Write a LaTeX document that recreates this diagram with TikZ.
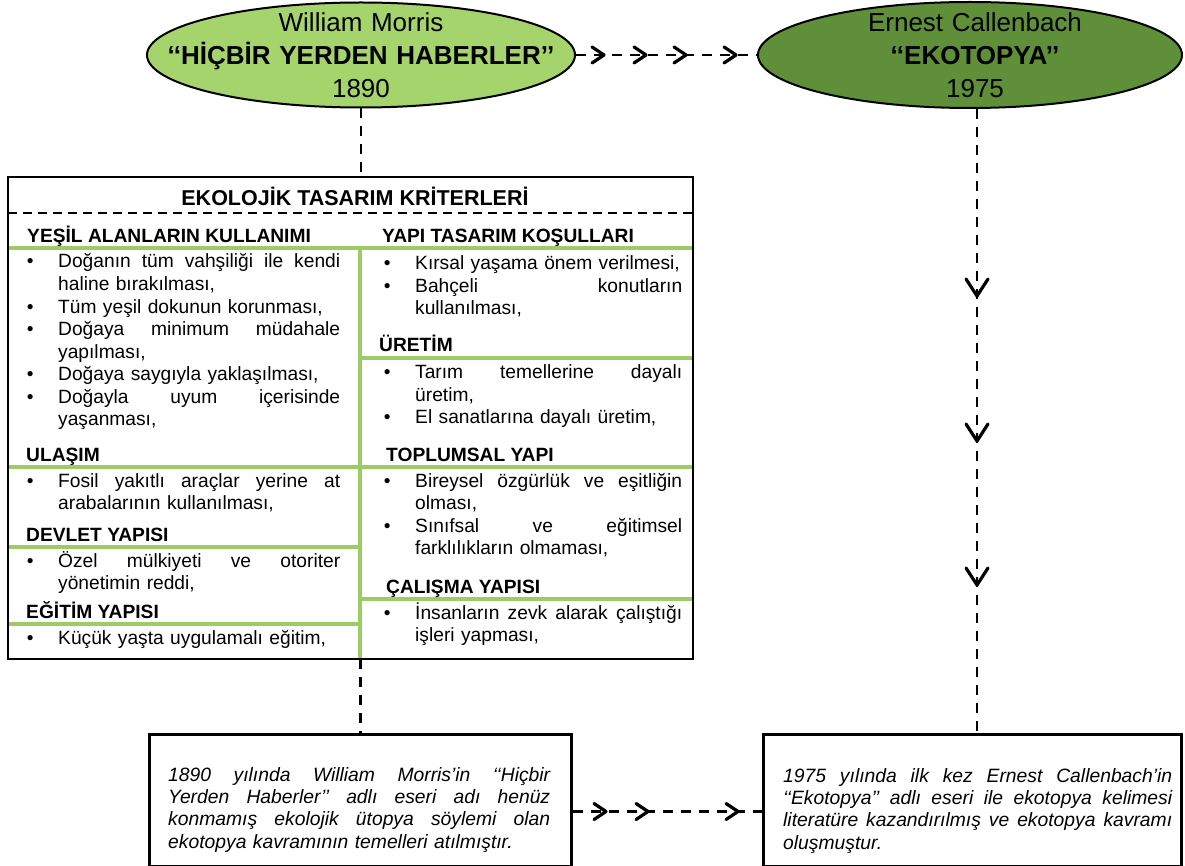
\documentclass[tikz,border=0pt]{standalone}
\usepackage{fontspec}
\setmainfont{Liberation Sans}
\usetikzlibrary{shapes.geometric,decorations.markings,calc}
\definecolor{lellfill}{HTML}{A6D46C}
\definecolor{rellfill}{HTML}{5F8F38}
\definecolor{gline}{HTML}{9DCC66}
\newcommand\jline[1]{\makebox[\hsize][s]{\spaceskip=0pt\xspaceskip=0pt #1}}
\newcommand\bul{\llap{•\hspace{24.5pt}}}
\newcommand\mybody{\fontsize{19.2}{22.5}\selectfont}
\newcommand\myell{\fontsize{26}{33}\selectfont}
\newcommand\mybot{\fontsize{19.3}{22.4}\selectfont}
\newcommand\chevh{\draw[solid,line width=3.2pt,line join=round,line cap=round] (-12pt,8pt) -- (0pt,0pt) -- (-12pt,-8pt);}
\newcommand\chevv{\draw[solid,line width=3.2pt,line join=round,line cap=round] (-17pt,11pt) -- (0pt,0pt) -- (-17pt,-11pt);}
\tikzset{
  conn/.style={line width=2.6pt, dash pattern=on 10pt off 8pt},
  gl/.style={line width=4pt, draw=gline},
  hdr/.style={anchor=base west, inner sep=0pt, font=\bfseries\mybody},
  lst/.style={anchor=base west, inner sep=0pt, text width=#1, align=left, font=\mybody},
  btext/.style={anchor=base west, inner sep=0pt, text width=#1, align=left, font=\itshape\mybot},
  elltxt/.style={anchor=base, inner sep=0pt, text width=420pt, align=center, font=\myell},
  ellshape/.style={ellipse, draw, line width=2pt, inner sep=0pt, minimum width=#1},
}
\begin{document}
\begin{tikzpicture}[x=1pt,y=-1pt]
\useasboundingbox (0,0) rectangle (1185,866);

% ellipses
\node[ellshape=428pt, fill=lellfill, minimum height=105pt] (lell) at (361,55) {};
\node[elltxt] (lelltxt) at (361,32) {William Morris\\{\bfseries ‘‘HİÇBİR YERDEN HABERLER’’}\\1890};
\node[ellshape=424pt, fill=rellfill, minimum height=106pt] (rell) at (970,55) {};
\node[elltxt] (relltxt) at (975,32) {Ernest Callenbach\\{\bfseries ‘‘EKOTOPYA’’}\\1975};

% main box
\node[minimum width=685pt, minimum height=482pt, inner sep=0pt] (mainbox) at (350.5,418) {};
\draw[gl] (8,248) -- (693,248);
\draw[gl] (360,248) -- (360,659);
\draw[gl] (8,467) -- (693,467);
\draw[gl] (8,547) -- (360,547);
\draw[gl] (8,624) -- (360,624);
\draw[gl] (360,358) -- (693,358);
\draw[gl] (360,599) -- (693,599);
\draw[line width=2.4pt] (mainbox.north west) rectangle (mainbox.south east);

\node[anchor=base, inner sep=0pt, font=\bfseries\fontsize{21.5}{26}\selectfont] (title) at (355,206) {EKOLOJİK TASARIM KRİTERLERİ};
\coordinate (dl) at (0,213);
\draw[line width=2pt, dash pattern=on 9pt off 6pt] (mainbox.west |- dl) -- (mainbox.east |- dl);

% headers
\node[hdr] (h1) at (27,243) {YEŞİL ALANLARIN KULLANIMI};
\node[hdr] (h2) at (26,461) {ULAŞIM};
\node[hdr] (h3) at (26,541) {DEVLET YAPISI};
\node[hdr] (h4) at (26,618) {EĞİTİM YAPISI};
\node[hdr] (h5) at (382,243) {YAPI TASARIM KOŞULLARI};
\node[hdr] (h6) at (379,352) {ÜRETİM};
\node[hdr] (h7) at (386,461) {TOPLUMSAL YAPI};
\node[hdr] (h8) at (386,593) {ÇALIŞMA YAPISI};

% left items
\node[lst=282pt] (a1) at (58,268) {\bul\jline{Doğanın tüm vahşiliği ile kendi}\\haline bırakılması,};
\node[lst=282pt] (a2) at (58,313) {\bul Tüm yeşil dokunun korunması,};
\node[lst=282pt] (a3) at (58,335.5) {\bul\jline{Doğaya minimum müdahale}\\yapılması,};
\node[lst=282pt] (a4) at (58,380.5) {\bul Doğaya saygıyla yaklaşılması,};
\node[lst=282pt] (a5) at (58,403) {\bul\jline{Doğayla uyum içerisinde}\\yaşanması,};
\node[lst=282pt] (a6) at (58,487) {\bul\jline{Fosil yakıtlı araçlar yerine at}\\arabalarının kullanılması,};
\node[lst=282pt] (a7) at (58,567) {\bul\jline{Özel mülkiyeti ve otoriter}\\yönetimin reddi,};
\node[lst=282pt] (a8) at (58,644) {\bul Küçük yaşta uygulamalı eğitim,};

% right items
\node[lst=267pt] (b1) at (415,270) {\bul Kırsal yaşama önem verilmesi,};
\node[lst=267pt] (b2) at (415,292.5) {\bul\jline{Bahçeli konutların}\\kullanılması,};
\node[lst=267pt] (b3) at (415,378.5) {\bul\jline{Tarım temellerine dayalı}\\üretim,};
\node[lst=267pt] (b4) at (415,423.5) {\bul El sanatlarına dayalı üretim,};
\node[lst=267pt] (b5) at (415,487) {\bul\jline{Bireysel özgürlük ve eşitliğin}\\olması,};
\node[lst=267pt] (b6) at (415,532) {\bul\jline{Sınıfsal ve eğitimsel}\\farklılıkların olmaması,};
\node[lst=267pt] (b7) at (415,619) {\bul\jline{İnsanların zevk alarak çalıştığı}\\işleri yapması,};

% bottom boxes
\node[draw, line width=3pt, minimum width=422pt, minimum height=132pt, inner sep=0pt, anchor=north west] (lbox) at (148,733) {};
\node[draw, line width=3pt, minimum width=418pt, minimum height=132pt, inner sep=0pt, anchor=north west] (rbox) at (762,733) {};
\node[btext=382pt] (ltxt) at (168,781) {\jline{1890 yılında William Morris’in ‘‘Hiçbir}\\\jline{Yerden Haberler’’ adlı eseri adı henüz}\\\jline{konmamış ekolojik ütopya söylemi olan}\\ekotopya kavramının temelleri atılmıştır.};
\node[btext=389pt] (rtxt) at (783,782) {\jline{1975 yılında ilk kez Ernest Callenbach’in}\\\jline{‘‘Ekotopya’’ adlı eseri ile ekotopya kelimesi}\\\jline{literatüre kazandırılmış ve ekotopya kavramı}\\oluşmuştur.};

% connectors
\draw[conn, decoration={markings,
    mark=at position 28pt with {\chevh},
    mark=at position 70pt with {\chevh},
    mark=at position 110pt with {\chevh},
    mark=at position 160pt with {\chevh}}, postaction={decorate}]
  (lell.east) -- (rell.west);
\draw[conn] (lell.south) -- (lell.south |- mainbox.north);
\draw[conn] (lbox.north |- mainbox.south) -- (lbox.north);
\coordinate (rv) at (977,0);
\draw[conn, decoration={markings,
    mark=at position 187pt with {\chevv},
    mark=at position 332pt with {\chevv},
    mark=at position 476pt with {\chevv}}, postaction={decorate}]
  (rell.south -| rv) -- (rbox.north -| rv);
\draw[conn, decoration={markings,
    mark=at position 33pt with {\chevh},
    mark=at position 75pt with {\chevh},
    mark=at position 165pt with {\chevh}}, postaction={decorate}]
  ([yshift=-11pt]lbox.east) -- ([yshift=-11pt]rbox.west);
\end{tikzpicture}
\end{document}
